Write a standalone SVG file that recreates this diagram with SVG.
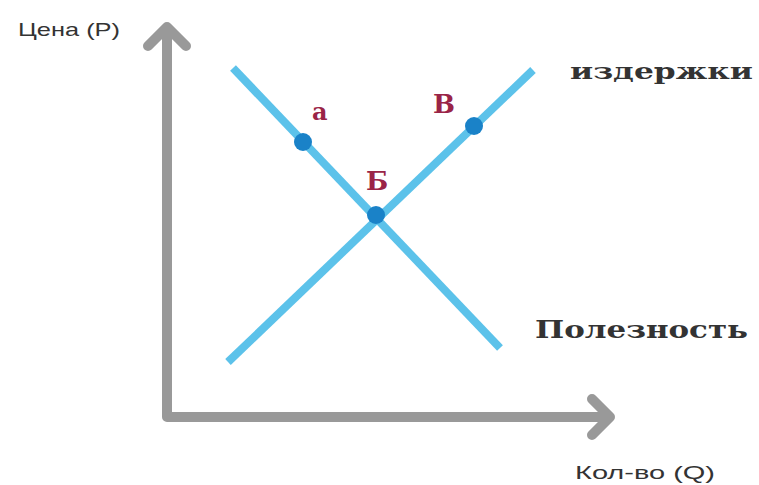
<svg xmlns="http://www.w3.org/2000/svg" width="759" height="485" viewBox="0 0 759 485">
<style>
.axis{stroke:#999;stroke-width:10;fill:none;stroke-linecap:round;stroke-linejoin:round}
.curve{stroke:#5cc2ea;stroke-width:8;fill:none}
.dot{fill:#1a82c8}
.pt{font-family:"DejaVu Serif","Liberation Serif",serif;font-weight:bold;fill:#9a2447}
.cap{font-family:"DejaVu Serif","Liberation Serif",serif;font-weight:bold;fill:#333}
.ax{font-family:"Liberation Sans",Arial,sans-serif;fill:#333;font-size:19px}
</style>
<rect width="759" height="485" fill="#fff"/>
<g id="connectors">
<path class="axis" d="M167,30 V417 H608"/>
<path class="axis" d="M148,46 L167,27 L186,46"/>
<path class="axis" d="M592,399 L610,417 L592,435"/>
<line class="curve" x1="233" y1="68" x2="500" y2="348"/>
<line class="curve" x1="228" y1="362" x2="533" y2="70"/>
</g>
<g id="axis-p"><text class="ax" x="18" y="36" textLength="102" lengthAdjust="spacingAndGlyphs">Цена (Р)</text></g>
<g id="axis-q"><text class="ax" x="575" y="479" textLength="140" lengthAdjust="spacingAndGlyphs">Кол-во (Q)</text></g>
<g id="point-a"><circle class="dot" cx="303" cy="142" r="9"/><text class="pt" x="312" y="120" font-size="24">а</text></g>
<g id="point-b"><circle class="dot" cx="376" cy="215" r="9"/><text class="pt" x="366" y="190" font-size="26">Б</text></g>
<g id="point-v"><circle class="dot" cx="474" cy="126" r="9"/><text class="pt" x="433" y="113" font-size="26">В</text></g>
<g id="label-costs"><text class="cap" x="570" y="79" font-size="22" textLength="183" lengthAdjust="spacingAndGlyphs">издержки</text></g>
<g id="label-utility"><text class="cap" x="535" y="338" font-size="24" textLength="213" lengthAdjust="spacingAndGlyphs">Полезность</text></g>
</svg>
